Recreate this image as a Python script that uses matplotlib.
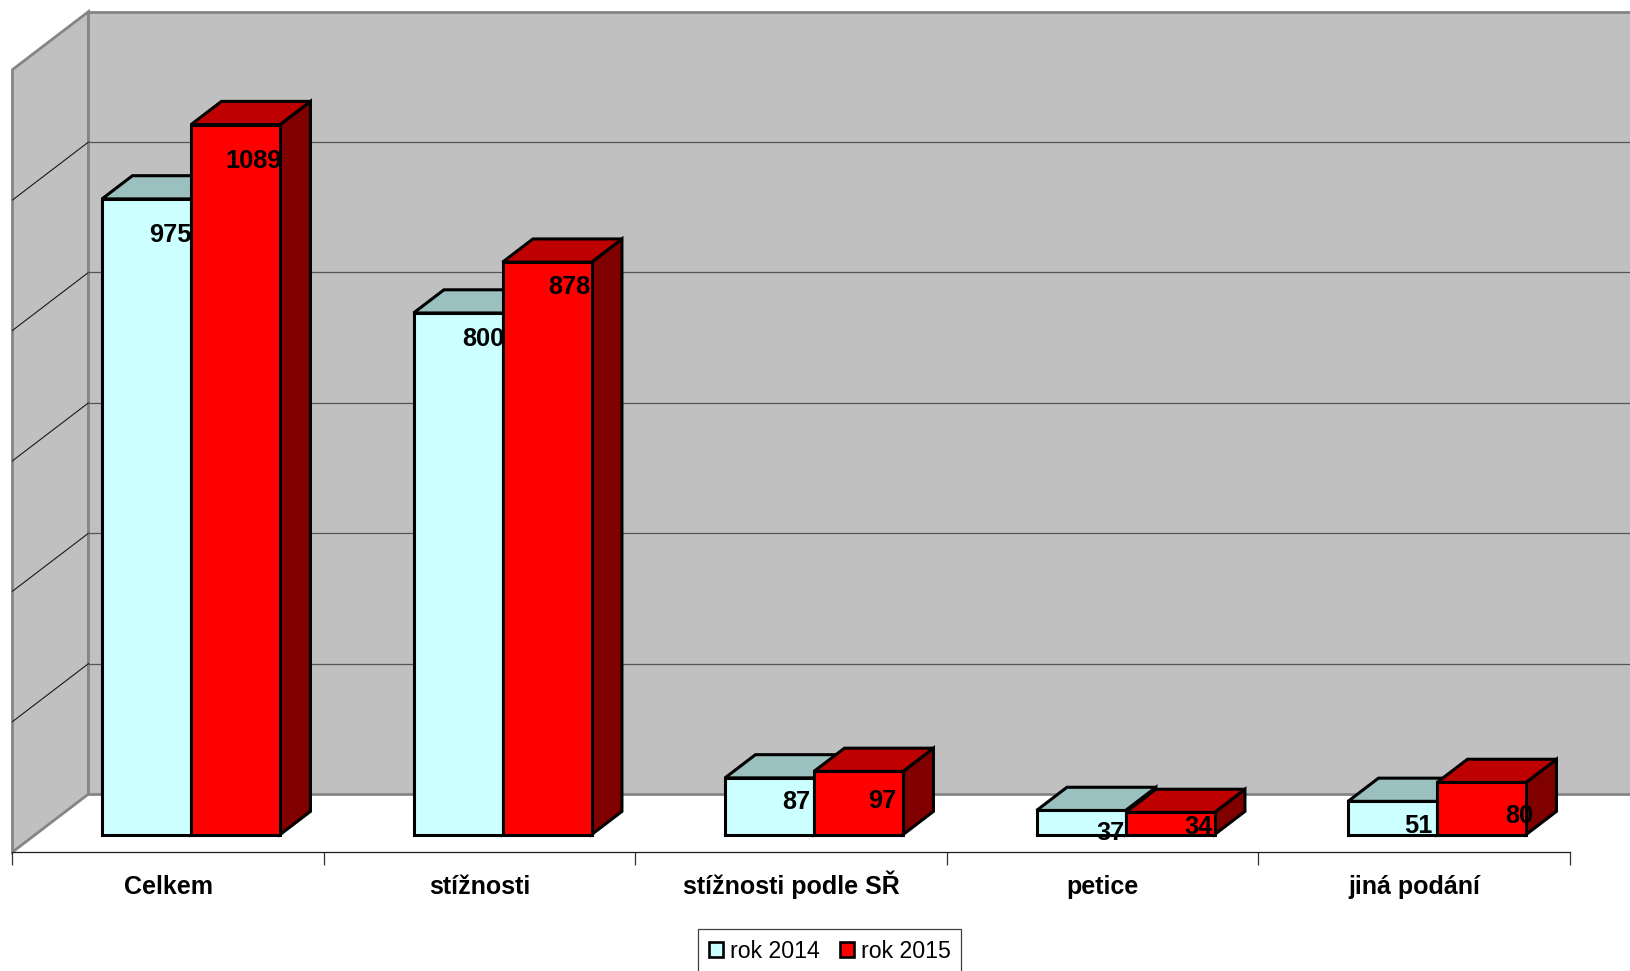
import numpy as np
import matplotlib
matplotlib.use('Agg')
import matplotlib.pyplot as plt
from matplotlib.patches import Patch, Polygon


categories = ['Celkem', 'stížnosti', 'stížnosti podle SŘ', 'petice', 'jiná podání']
rok_2014 = [975, 800, 87, 37, 51]
rok_2015 = [1089, 878, 97, 34, 80]
series_names = ['rok 2014', 'rok 2015']
grid_values = [200, 400, 600, 800, 1000]
axis_max = 1200

# Label nudges in pixels, (right edge from the bar's front corner, drop below its top).
_NUDGE_2014 = [(1, 36), (2, 26), (-4, 24), (-1, 23), (-5, 25)]
_NUDGE_2015 = [(2, 36), (-1, 25), (-7, 30), (-2, 15), (7, 34)]

_W, _H = 1631, 971
_ORIGIN_X, _ORIGIN_Y = 12.5, 852
_PX_PER_CAT = 311.5
_PX_PER_VALUE = 0.652
# Oblique projection: how far the back wall is shifted, in data units.
_DEPTH_X = 76 / _PX_PER_CAT
_DEPTH_Y = 58 / _PX_PER_VALUE
_BAR_WIDTH = 2 / 7
_BAR_GAP = 1.5 / 7
_BAR_FRONT, _BAR_BACK = 0.3, 0.7

_WALL = '#C0C0C0'
_WALL_EDGE = '#858585'
_LIGHT = ('#CCFFFF', '#9BC0C0', '#669999')
_RED = ('#FF0000', '#BF0000', '#800000')


def project(x, y, depth):
  return x + _DEPTH_X * depth, y + _DEPTH_Y * depth


def face(ax, points, color, edge, lw, z):
  xy = [project(*p) for p in points]
  ax.add_patch(Polygon(xy, closed=True, facecolor=color, edgecolor=edge,
                       linewidth=lw, joinstyle='miter', zorder=z))


def draw_walls(ax, n):
  face(ax, [(0, 0, 0), (0, axis_max, 0), (0, axis_max, 1), (0, 0, 1)], _WALL, _WALL_EDGE, 2.0, 1)
  face(ax, [(0, 0, 1), (0, axis_max, 1), (n, axis_max, 1), (n, 0, 1)], _WALL, _WALL_EDGE, 2.0, 1)
  for v in grid_values:
    xs, ys = zip(project(0, v, 0), project(0, v, 1))
    ax.plot(xs, ys, color='#1A1A1A', lw=0.8, zorder=2)
    xs, ys = zip(project(0, v, 1), project(n, v, 1))
    ax.plot(xs, ys, color='#555555', lw=0.9, zorder=2)


def draw_bar(ax, left, value, colors, z):
  right = left + _BAR_WIDTH
  front, top, side = colors
  f, b = _BAR_FRONT, _BAR_BACK
  face(ax, [(right, 0, f), (right, value, f), (right, value, b), (right, 0, b)], side, 'black', 2.2, z)
  face(ax, [(left, value, f), (right, value, f), (right, value, b), (left, value, b)], top, 'black', 2.2, z)
  face(ax, [(left, 0, f), (right, 0, f), (right, value, f), (left, value, f)], front, 'black', 2.2, z)


def draw_label(ax, x, value, nudge):
  xy = project(x, value, _BAR_FRONT)
  ax.annotate(str(value), xy=xy, xytext=(nudge[0] * 0.72, -nudge[1] * 0.72), textcoords='offset points',
              ha='right', va='center', fontsize=18.3, fontweight='bold', color='black', zorder=20)


def main():
  plt.rcParams['font.family'] = ['Liberation Sans', 'DejaVu Sans']

  fig = plt.figure(figsize=(_W / 100, _H / 100), dpi=100, facecolor='white')
  ax = fig.add_axes([0, 0, 1, 1])
  ax.set_xlim(-_ORIGIN_X / _PX_PER_CAT, (_W - _ORIGIN_X) / _PX_PER_CAT)
  ax.set_ylim((_ORIGIN_Y - _H) / _PX_PER_VALUE, _ORIGIN_Y / _PX_PER_VALUE)
  ax.patch.set_visible(False)

  n = len(categories)
  draw_walls(ax, n)

  # Later categories sit further right, so the side faces never hide a neighbour.
  for i in range(n):
    left = i + _BAR_GAP
    mid = left + _BAR_WIDTH
    draw_bar(ax, left, rok_2014[i], _LIGHT, 5)
    draw_bar(ax, mid, rok_2015[i], _RED, 6)
    draw_label(ax, mid, rok_2014[i], _NUDGE_2014[i])
    draw_label(ax, mid + _BAR_WIDTH, rok_2015[i], _NUDGE_2015[i])

  # Category axis along the front edge of the floor.
  for name in ['top', 'left', 'right']:
    ax.spines[name].set_visible(False)
  ax.spines['bottom'].set_position(('data', 0))
  ax.spines['bottom'].set_bounds(0, n)
  ax.spines['bottom'].set_linewidth(0.9)
  ax.spines['bottom'].set_color('#1A1A1A')
  ax.set_yticks([])
  ax.set_xticks(np.arange(n + 1), labels=[''] * (n + 1))
  ax.set_xticks(np.arange(n) + 0.5, labels=categories, minor=True)
  ax.tick_params(axis='x', which='major', direction='out', length=9.4, width=0.9, color='#333333')
  ax.tick_params(axis='x', which='minor', length=0, pad=30.2, labelsize=18)
  for label in ax.get_xticklabels(minor=True):
    label.set_fontweight('bold')
    label.set_va('baseline')

  handles = [Patch(facecolor=_LIGHT[0], edgecolor='black', linewidth=1.9),
             Patch(facecolor=_RED[0], edgecolor='black', linewidth=1.9)]
  legend = ax.legend(handles, series_names, ncol=2, loc='upper left',
                     bbox_to_anchor=(698 / _W, 1 - 929 / _H), bbox_transform=fig.transFigure,
                     borderaxespad=0, fontsize=16.7, fancybox=False, framealpha=1,
                     edgecolor='#404040', handlelength=0.62, handleheight=0.62,
                     handletextpad=0.28, columnspacing=0.87, borderpad=0.47)
  legend.get_frame().set_linewidth(0.9)
  legend.set_zorder(30)

  fig.savefig('out.png', dpi=100)


if __name__ == "__main__":
  main()
